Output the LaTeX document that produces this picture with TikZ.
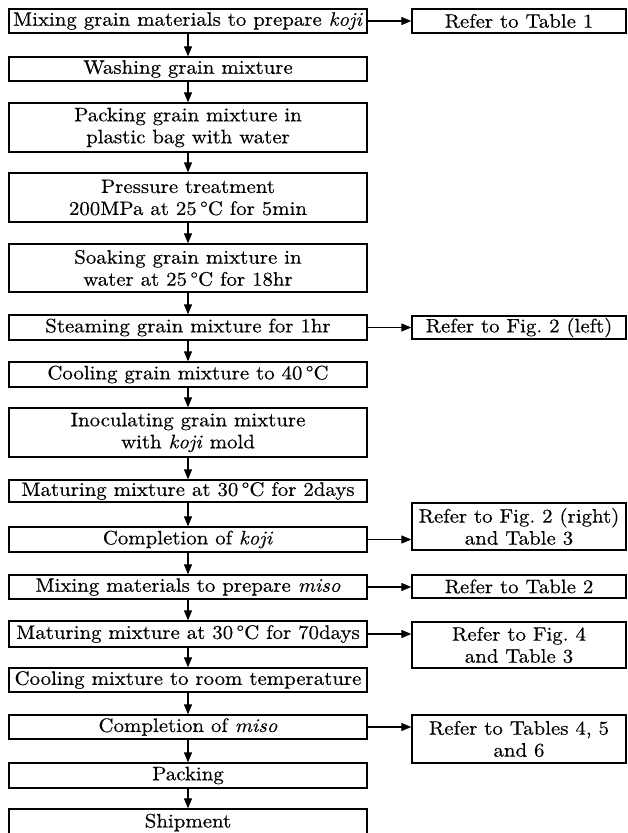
\documentclass[tikz,border=0pt]{standalone}
\usepackage{fontspec}
\setmainfont{lmroman10}[Extension=.otf, UprightFont=*-regular, ItalicFont=*-italic, BoldFont=*-bold, FakeStretch=1.07, FakeBold=0.35]
\usetikzlibrary{arrows.meta}
\newcommand{\dgc}{\,\textdegree{}C}
\begin{document}
\begin{tikzpicture}[x=1pt,y=-1pt,
  every node/.style={font=\fontsize{19.5}{22}\selectfont},
  lbox/.style={draw, line width=1.3pt, minimum width=358pt, inner sep=0pt, align=center},
  rbox/.style={draw, line width=1.3pt, minimum width=214pt, inner sep=0pt, align=center},
  flow/.style={line width=1.1pt, -{Triangle[length=10pt,width=8pt]}}]
\clip (0,0) rectangle (627,833);
\fill[white] (0,0) rectangle (627,833);
% left column
\node[lbox, minimum height=24pt] (b1) at (188,21) {Mixing grain materials to prepare \textit{koji}};
\node[lbox, minimum height=24pt] (b2) at (188,69) {Washing grain mixture};
\node[lbox, minimum height=49pt] (b3) at (188,127.5) {Packing grain mixture in\\plastic bag with water};
\node[lbox, minimum height=49pt] (b4) at (188,197.5) {Pressure treatment\\200MPa at 25\dgc{} for 5min};
\node[lbox, minimum height=48pt] (b5) at (188,268) {Soaking grain mixture in\\water at 25\dgc{} for 18hr};
\node[lbox, minimum height=25pt] (b6) at (188,327.5) {Steaming grain mixture for 1hr};
\node[lbox, minimum height=25pt] (b7) at (188,374.5) {Cooling grain mixture to 40\dgc};
\node[lbox, minimum height=49pt] (b8) at (188,432.5) {Inoculating grain mixture\\with \textit{koji} mold};
\node[lbox, minimum height=22pt] (b9) at (188,491) {Maturing mixture at 30\dgc{} for 2days};
\node[lbox, minimum height=25pt] (b10) at (188,539.5) {Completion of \textit{koji}};
\node[lbox, minimum height=24pt] (b11) at (188,587) {Mixing materials to prepare \textit{miso}};
\node[lbox, minimum height=26pt] (b12) at (188,634) {Maturing mixture at 30\dgc{} for 70days};
\node[lbox, minimum height=24pt] (b13) at (188,680) {Cooling mixture to room temperature};
\node[lbox, minimum height=24pt] (b14) at (188,727) {Completion of \textit{miso}};
\node[lbox, minimum height=25pt] (b15) at (188,775.5) {Packing};
\node[lbox, minimum height=27pt] (b16) at (188,822.5) {Shipment};
% right column
\node[rbox, minimum height=24pt] (r1) at (519,21) {Refer to Table 1};
\node[rbox, minimum height=23pt] (r2) at (519,327.5) {Refer to Fig.~2~(left)};
\node[rbox, minimum height=47pt] (r3) at (519,526.5) {Refer to Fig.~2 (right)\\and Table 3};
\node[rbox, minimum height=23pt] (r4) at (519,586.5) {Refer to Table 2};
\node[rbox, minimum height=46pt] (r5) at (519,645) {Refer to Fig.~4\\and Table 3};
\node[rbox, minimum height=48pt] (r6) at (519,739) {Refer to Tables 4, 5\\and 6};
% vertical arrows
\foreach \a/\b in {b1/b2,b2/b3,b3/b4,b4/b5,b5/b6,b6/b7,b7/b8,b8/b9,b9/b10,b10/b11,b11/b12,b12/b13,b13/b14,b14/b15,b15/b16}
  \draw[flow] (\a.south) -- (\b.north);
% horizontal arrows
\draw[flow] (b1.east) -- (r1.west);
\draw[flow] (b6.east) -- (r2.west);
\draw[flow] (b10.east) -- (b10.east -| r3.west);
\draw[flow] (b11.east) -- (b11.east -| r4.west);
\draw[flow] (b12.east) -- (b12.east -| r5.west);
\draw[flow] (b14.east) -- (b14.east -| r6.west);
\end{tikzpicture}
\end{document}
